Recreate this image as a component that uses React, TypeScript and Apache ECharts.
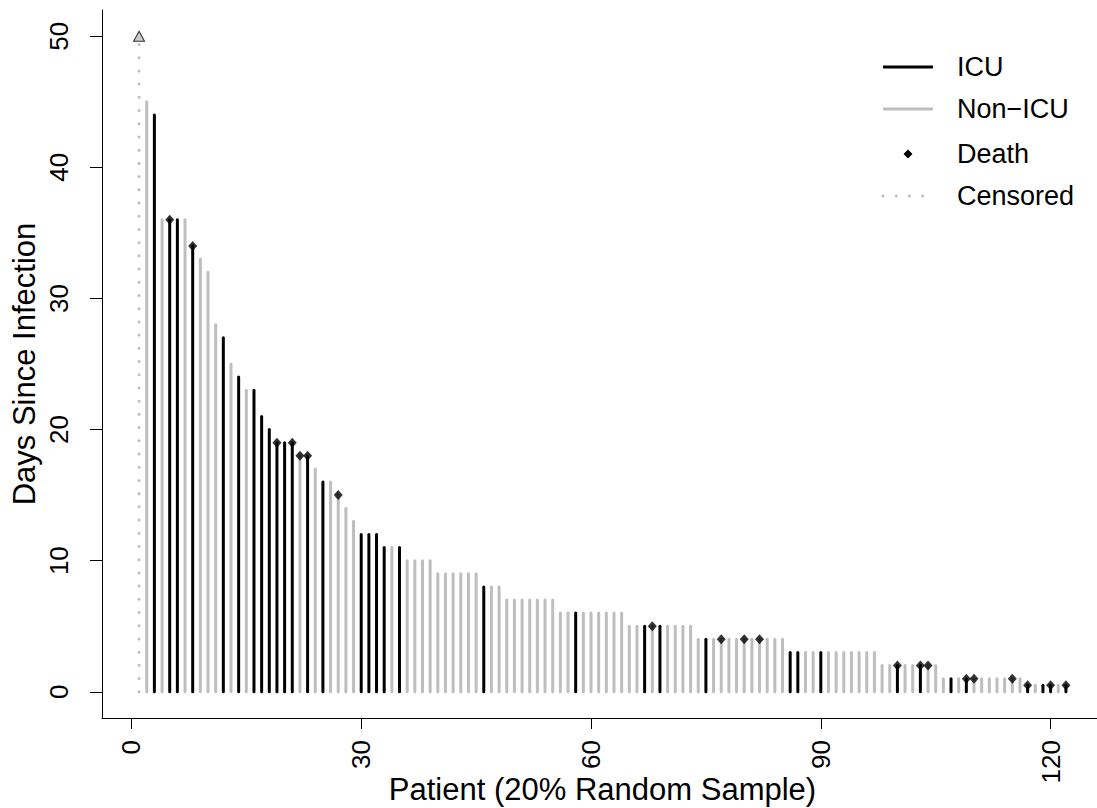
import React, { useEffect, useRef } from "react";
import * as echarts from "echarts";

// ---- data (patients 2..122; patient 1 is censored) ----
const FIRST_PATIENT = 2;
const DAYS = [
  45, 44, 36, 36, 36, 36, 34, 33, 32, 28, 27, 25, 24, 23, 23, 21, 20, 19, 19, 19, 18, 18, 17, 16, 16, 15, 14, 13, 12, 12, 12, 11, 11, 11,
  10, 10, 10, 10,
  9, 9, 9, 9, 9, 9,
  8, 8, 8,
  7, 7, 7, 7, 7, 7, 7,
  6, 6, 6, 6, 6, 6, 6, 6, 6,
  5, 5, 5, 5, 5, 5, 5, 5, 5,
  4, 4, 4, 4, 4, 4, 4, 4, 4, 4, 4, 4,
  3, 3, 3, 3, 3, 3, 3, 3, 3, 3, 3, 3,
  2, 2, 2, 2, 2, 2, 2, 2,
  1, 1, 1, 1, 1, 1, 1, 1, 1, 1, 1,
  0.5, 0.5, 0.5, 0.5, 0.5, 0.5,
];
const ICU_FLAG = [
  0, 1, 0, 1, 1, 0, 1, 0, 0, 0, 1, 0, 1, 0, 1, 1, 1, 1, 1, 1, 0, 1, 0, 1, 0, 0, 0, 0, 1, 1, 1, 1, 0, 1,
  0, 0, 0, 0,
  0, 0, 0, 0, 0, 0,
  1, 0, 0,
  0, 0, 0, 0, 0, 0, 0,
  0, 0, 1, 0, 0, 0, 0, 0, 0,
  0, 0, 1, 0, 1, 0, 0, 0, 0,
  0, 1, 0, 0, 0, 0, 0, 0, 0, 0, 0, 0,
  1, 1, 0, 0, 1, 0, 0, 0, 0, 0, 0, 0,
  0, 0, 1, 0, 0, 1, 0, 0,
  0, 1, 0, 1, 0, 0, 0, 0, 0, 0, 0,
  1, 0, 1, 1, 0, 1,
];
const DEATH_PATIENTS = [5, 8, 19, 21, 22, 23, 27, 68, 77, 80, 82, 100, 103, 104, 109, 110, 115, 117, 120, 122];
const CENSORED_PATIENTS = [1];
const CENSORED_DAYS = [50];

const X_TICKS = [0, 30, 60, 90, 120];
const Y_TICKS = [0, 10, 20, 30, 40, 50];
const LEGEND_LABELS = ["ICU", "Non\u2212ICU", "Death", "Censored"];

const X_TITLE = "Patient (20% Random Sample)";
const Y_TITLE = "Days Since Infection";

const FONT = "'Liberation Sans', Arial, Helvetica, sans-serif";
const GRAY = "#BEBEBE";

export default function App() {
  const ref = useRef<HTMLDivElement>(null);

  useEffect(() => {
    document.body.style.margin = "0";
    if (!ref.current) return;
    const chart = echarts.init(ref.current, null, { renderer: "svg" });

    const icuData: number[][] = [];
    const nonIcuData: number[][] = [];
    DAYS.forEach((d, i) => {
      const p = FIRST_PATIENT + i;
      if (ICU_FLAG[i]) icuData.push([p, d]);
      else nonIcuData.push([p, d]);
    });
    const deathData = DEATH_PATIENTS.map((p) => [p, DAYS[p - FIRST_PATIENT]]);
    const censData = CENSORED_PATIENTS.map((p, i) => [p, CENSORED_DAYS[i]]);

    const stick = (color: string, dash?: number[]) => (params: any, api: any) => {
      const x = api.value(0);
      const y = api.value(1);
      const p0 = api.coord([x, 0]);
      const p1 = api.coord([x, y]);
      return {
        type: "line",
        shape: { x1: p0[0], y1: p0[1], x2: p1[0], y2: p1[1] },
        style: { stroke: color, lineWidth: 3, lineCap: "round", lineDash: dash },
      };
    };

    // legend (graphic)
    const lx0 = 883, lx1 = 933, tx = 957;
    const rows = [67, 109, 154, 196];
    const legend: any[] = [];
    LEGEND_LABELS.forEach((label, i) => {
      const y = rows[i];
      if (i === 0 || i === 1) {
        legend.push({
          type: "line",
          shape: { x1: lx0, y1: y, x2: lx1, y2: y },
          style: { stroke: i === 0 ? "#000" : GRAY, lineWidth: 3 },
        });
      } else if (i === 2) {
        legend.push({
          type: "polygon",
          shape: { points: [[908, y - 4.5], [912.5, y], [908, y + 4.5], [903.5, y]] },
          style: { fill: "#000" },
        });
      } else {
        legend.push({
          type: "line",
          shape: { x1: lx0, y1: y, x2: lx1, y2: y },
          style: { stroke: GRAY, lineWidth: 3, lineCap: "round", lineDash: [0.01, 13.2] },
        });
      }
      legend.push({
        type: "text",
        x: tx,
        y: y,
        style: {
          text: label,
          fontSize: 27,
          fontFamily: FONT,
          fill: "#000",
          textVerticalAlign: "middle",
          verticalAlign: "middle",
          textAlign: "left",
        },
      });
    });

    chart.setOption({
      animation: false,
      backgroundColor: "#fff",
      grid: { left: 102, right: -6, top: 10, bottom: 90, containLabel: false, outerBoundsMode: "none" },
      xAxis: {
        type: "value",
        min: -3.84,
        max: 126.84,
        name: X_TITLE,
        nameLocation: "middle",
        nameGap: 56,
        nameMoveOverlap: false,
        nameTextStyle: { fontSize: 31, fontFamily: FONT, color: "#000" },
        axisLine: { show: true, onZero: false, lineStyle: { color: "#000", width: 1 } },
        axisTick: { show: true, length: 11, customValues: X_TICKS, lineStyle: { color: "#000" } },
        axisLabel: {
          show: true,
          customValues: X_TICKS,
          rotate: 90,
          margin: 22,
          fontSize: 26,
          fontFamily: FONT,
          color: "#000",
        },
        splitLine: { show: false },
      },
      yAxis: {
        type: "value",
        min: -2,
        max: 52,
        name: Y_TITLE,
        nameLocation: "middle",
        nameGap: 62,
        nameRotate: 90,
        nameMoveOverlap: false,
        nameTextStyle: { fontSize: 31, fontFamily: FONT, color: "#000" },
        axisLine: { show: true, onZero: false, lineStyle: { color: "#000", width: 1 } },
        axisTick: { show: true, length: 12, customValues: Y_TICKS, lineStyle: { color: "#000" } },
        axisLabel: {
          show: true,
          customValues: Y_TICKS,
          rotate: 90,
          margin: 30,
          fontSize: 26,
          fontFamily: FONT,
          color: "#000",
        },
        splitLine: { show: false },
      },
      graphic: legend,
      series: [
        {
          name: "Censored",
          type: "custom",
          renderItem: stick(GRAY, [0.01, 13.2]),
          data: censData,
          z: 1,
        },
        {
          name: "Non\u2212ICU",
          type: "custom",
          renderItem: stick(GRAY),
          data: nonIcuData,
          z: 2,
        },
        {
          name: "ICU",
          type: "custom",
          renderItem: stick("#000"),
          data: icuData,
          z: 3,
        },
        {
          name: "Death",
          type: "scatter",
          symbol: "diamond",
          symbolSize: [9, 10],
          itemStyle: { color: "#000" },
          data: deathData,
          z: 4,
        },
        {
          name: "Censored marker",
          type: "scatter",
          symbol: "triangle",
          symbolSize: [11, 10],
          itemStyle: { color: GRAY, borderColor: "#000", borderWidth: 1 },
          data: censData,
          z: 5,
        },
      ],
    });

    return () => chart.dispose();
  }, []);

  return <div ref={ref} style={{ width: 1097, height: 808 }} />;
}
